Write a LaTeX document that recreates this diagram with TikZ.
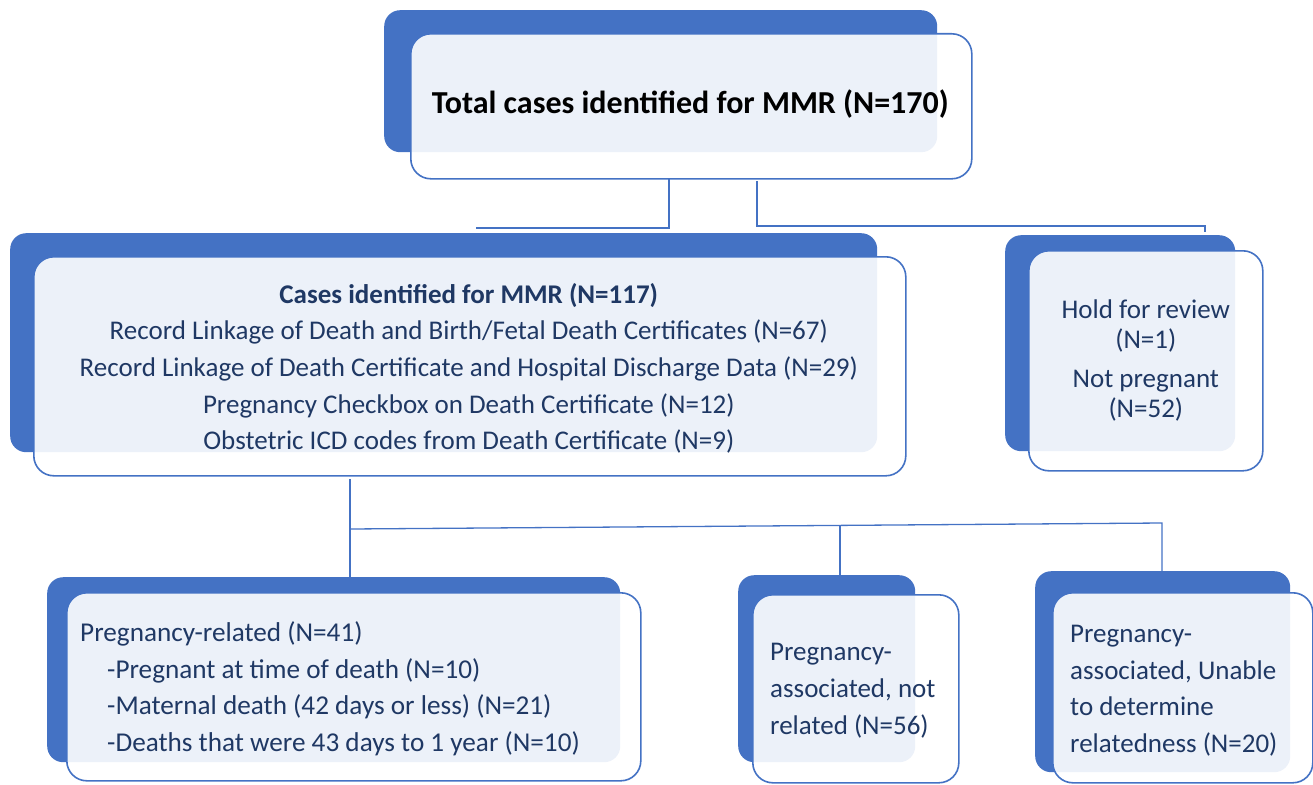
\documentclass[tikz,border=0pt]{standalone}
\usepackage{fontspec}
\setmainfont{Carlito}
\usetikzlibrary{calc}
\definecolor{accent}{HTML}{4472C4}
\definecolor{navy}{HTML}{1F3864}
\begin{document}
\begin{tikzpicture}[x=1pt,y=-1pt,
  backbox/.style={fill=accent, rounded corners=16pt, draw=none, inner sep=0pt, anchor=north west},
  frontbox/.style={draw=accent, line width=1.6pt, fill=white, fill opacity=0.9, text opacity=1, rounded corners=20pt, inner sep=0pt, anchor=north west},
  conn/.style={draw=accent, line width=1.3pt},
  body/.style={font=\fontsize{27}{36.7}\selectfont, text=navy, inner sep=0pt}]
\useasboundingbox (0,0) rectangle (1313,784);

% coordinates for connector joints
\coordinate (c1) at (476,228);
\coordinate (c2) at (1205,226);
\coordinate (j1) at (350,529);
\coordinate (j2) at (840,525.4);
\coordinate (j3) at (1162,523);

% back boxes
\node[backbox, minimum width=553pt, minimum height=142pt] (topback) at (384,10) {};
\node[backbox, minimum width=867pt, minimum height=219pt] (casesback) at (10,233) {};
\node[backbox, minimum width=230pt, minimum height=216pt] (holdback) at (1005,235) {};
\node[backbox, minimum width=573pt, minimum height=185pt] (prback) at (47,577) {};
\node[backbox, minimum width=177pt, minimum height=187pt] (paback) at (738,575) {};
\node[backbox, minimum width=255pt, minimum height=201pt] (puback) at (1035,571) {};

% connectors
\draw[conn] ($(topback.south west)+(285,26)$) |- (c1);
\draw[conn] ($(topback.south west)+(373,29)$) |- (c2) -- ($(c2)+(0,6)$);
\draw[conn] ($(casesback.south west)+(340,27)$) -- (j1) -- (prback.north west -| j1);
\draw[conn] (j1) -- (j2) -- (j3) -- (puback.north west -| j3);
\draw[conn] (j2) -- (paback.north west -| j2);

% front boxes
\node[frontbox, minimum width=561pt, minimum height=145pt] (top) at (410,33) {};
\node[frontbox, minimum width=872pt, minimum height=219pt] (cases) at (33,256) {};
\node[frontbox, minimum width=234pt, minimum height=220pt] (hold) at (1028,250) {};
\node[frontbox, minimum width=574pt, minimum height=188pt] (pr) at (66,592) {};
\node[frontbox, minimum width=206pt, minimum height=188pt] (pa) at (752,594) {};
\node[frontbox, minimum width=260pt, minimum height=190pt] (pu) at (1052,592) {};

% texts
\node[font=\fontsize{32}{38}\selectfont\bfseries, text=black, inner sep=0pt] (toptext) at ($(top.center)+(-1,-2)$) {Total cases identified for MMR (N=170)};
\node[body, align=center] (casestext) at ($(cases.center)+(-1,2)$) {\textbf{Cases identified for MMR (N=117)}\\
Record Linkage of Death and Birth/Fetal Death Certificates (N=67)\\
Record Linkage of Death Certificate and Hospital Discharge Data (N=29)\\
Pregnancy Checkbox on Death Certificate (N=12)\\
Obstetric ICD codes from Death Certificate (N=9)};
\node[body, font=\fontsize{27}{30}\selectfont, align=center] (holdtext) at ($(hold.center)+(0,0)$) {Hold for review\\(N=1)\\[9pt]Not pregnant\\(N=52)};
\node[body, font=\fontsize{27.2}{36.7}\selectfont, align=left, anchor=west] (prtext) at ($(pr.west)+(14,2)$) {Pregnancy-related (N=41)\\
\hspace*{27pt}-Pregnant at time of death (N=10)\\
\hspace*{27pt}-Maternal death (42 days or less) (N=21)\\
\hspace*{27pt}-Deaths that were 43 days to 1 year (N=10)};
\node[body, align=left, anchor=west] (patext) at ($(pa.west)+(18,2)$) {Pregnancy-\\associated, not\\related (N=56)};
\node[body, align=left, anchor=west] (putext) at ($(pu.west)+(18,3)$) {Pregnancy-\\associated, Unable\\to determine\\relatedness (N=20)};
\end{tikzpicture}
\end{document}
